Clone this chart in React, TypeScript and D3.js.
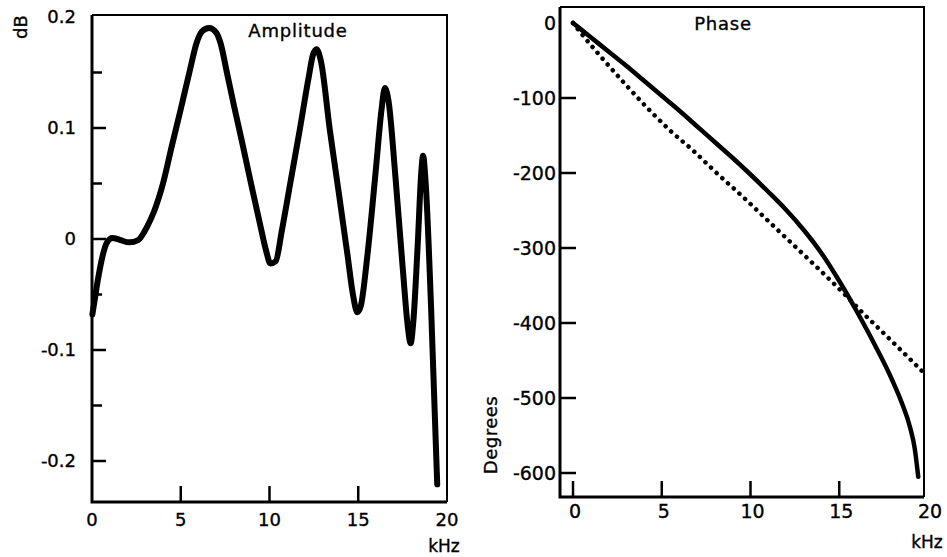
import React from 'react';
import * as d3 from 'd3';

// Amplitude response (left panel)
const ampFreq = [0.02, 0.15, 0.35, 0.6, 0.85, 1.15, 1.6, 2.1, 2.6, 3.1, 3.5, 4.0, 4.5, 5.0, 5.5, 5.9, 6.2, 6.6, 7.0, 7.25, 7.6, 8.0, 8.5, 9.0, 9.5, 9.8, 10.05, 10.35, 10.7, 11.2, 11.7, 12.2, 12.45, 12.65, 12.9, 13.4, 13.9, 14.4, 14.7, 14.95, 15.15, 15.5, 16.0, 16.3, 16.5, 16.7, 17.1, 17.5, 17.8, 17.95, 18.1, 18.35, 18.55, 18.65, 18.8, 19.1, 19.45];
const ampDb = [-0.068, -0.055, -0.035, -0.015, -0.003, 0.001, -0.001, -0.003, -0.001, 0.011, 0.025, 0.05, 0.084, 0.117, 0.151, 0.177, 0.187, 0.19, 0.186, 0.176, 0.15, 0.12, 0.084, 0.047, 0.011, -0.01, -0.022, -0.02, 0.008, 0.053, 0.098, 0.145, 0.166, 0.171, 0.16, 0.098, 0.042, -0.015, -0.05, -0.066, -0.06, -0.017, 0.064, 0.115, 0.136, 0.125, 0.055, -0.025, -0.08, -0.094, -0.075, -0.005, 0.06, 0.075, 0.05, -0.06, -0.221];

// Phase response (right panel)
const phaseFreq = [0, 1, 2, 3, 4, 5, 6, 7, 8, 9, 10, 11, 12, 13, 14, 15, 16, 17, 18, 18.5, 19, 19.25, 19.45];
const phaseSolid = [0, -19, -38, -57, -77, -97, -117, -138, -159, -180, -202, -225, -249, -276, -307, -344, -385, -429, -477, -505, -540, -567, -605];
const dotFreq = [0, 0.5, 1.5, 3, 4.34, 5.5, 6.76, 8, 9.58, 11, 12.2, 13.4, 14.5, 15.4, 16.3, 17.3, 18.25, 19.7];
const phaseDotted = [0, -15, -43, -83, -117, -144, -170, -198, -232, -264, -291, -318, -343, -364, -386, -409, -431, -465];

// Ticks
const kHzTicks = [0, 5, 10, 15, 20];
const ampMajor = [0.2, 0.1, 0, -0.1, -0.2];
const ampMinor = [0.15, 0.05, -0.05, -0.15];
const ampLabels = ['0.2', '0.1', '0', '-0.1', '-0.2'];
const phaseTicks = [0, -100, -200, -300, -400, -500, -600];

const font = 'DejaVu Sans, sans-serif';

const App = () => {
  // left panel scales
  const xA = d3.scaleLinear().domain([0, 20]).range([92, 447]);
  const yA = d3.scaleLinear().domain([0, 0.1]).range([239, 128]);
  const aTop = 15, aBottom = 502;

  // right panel scales
  const xP = d3.scaleLinear().domain([0, 20]).range([573, 928]);
  const yP = d3.scaleLinear().domain([0, -600]).range([23, 473]);
  const pLeft = 560, pRight = 924, pTop = 7, pBottom = 497;

  const ampLine = d3.line<number>()
    .x((_, i) => xA(ampFreq[i]))
    .y(d => yA(d))
    .curve(d3.curveMonotoneX);

  const solidLine = d3.line<number>()
    .x((_, i) => xP(phaseFreq[i]))
    .y(d => yP(d))
    .curve(d3.curveMonotoneX);

  const dotLine = d3.line<number>()
    .x((_, i) => xP(dotFreq[i]))
    .y(d => yP(d))
    .curve(d3.curveMonotoneX);

  const txt = { stroke: '#000', strokeWidth: 0.35 };

  return (
    <svg width={947} height={557} style={{ position: 'absolute', left: 0, top: 0, background: '#fff' }}
      fontFamily={font}>
      {/* ---- Amplitude panel ---- */}
      <path d={`M${xA(0)},${aTop}H${xA(20)}V${aBottom}`} fill="none" stroke="#000" strokeWidth={2} />
      <path d={`M${xA(0)},${aTop}V${aBottom}H${xA(20)}`} fill="none" stroke="#000" strokeWidth={3} />
      {ampMajor.map((v, i) => (
        <g key={'am' + i}>
          {v !== 0.2 && <line x1={xA(0)} x2={xA(0) + 14} y1={yA(v)} y2={yA(v)} stroke="#000" strokeWidth={2.5} />}
          <text x={76} y={yA(v) + 6} textAnchor="end" fontSize={18} {...txt}>{ampLabels[i]}</text>
        </g>
      ))}
      {ampMinor.map((v, i) => (
        <line key={'an' + i} x1={xA(0)} x2={xA(0) + 10} y1={yA(v)} y2={yA(v)} stroke="#000" strokeWidth={2.5} />
      ))}
      {kHzTicks.map(t => (
        <g key={'ax' + t}>
          {t > 0 && t < 20 && <line x1={xA(t)} x2={xA(t)} y1={aBottom} y2={aBottom - 16} stroke="#000" strokeWidth={2.5} />}
          <text x={xA(t)} y={526} textAnchor="middle" fontSize={18} {...txt}>{t}</text>
        </g>
      ))}
      <path d={ampLine(ampDb) || ''} fill="none" stroke="#000" strokeWidth={6} strokeLinejoin="round" strokeLinecap="round" />
      <text x={298} y={37} textAnchor="middle" fontSize={18} letterSpacing={0.8} {...txt}>Amplitude</text>
      <text x={444} y={552} textAnchor="middle" fontSize={17} {...txt}>kHz</text>
      <text transform="translate(27,27) rotate(-90)" textAnchor="middle" fontSize={18} {...txt}>dB</text>

      {/* ---- Phase panel ---- */}
      <path d={`M${pLeft},${pTop}H${pRight}V${pBottom}`} fill="none" stroke="#000" strokeWidth={2} />
      <path d={`M${pLeft},${pTop}V${pBottom}H${pRight}`} fill="none" stroke="#000" strokeWidth={3} />
      {phaseTicks.map(v => (
        <g key={'py' + v}>
          {v !== 0 && <line x1={pLeft} x2={pLeft + 16} y1={yP(v)} y2={yP(v)} stroke="#000" strokeWidth={2.5} />}
          <text x={556} y={yP(v) + 7} textAnchor="end" fontSize={19} {...txt}>{v}</text>
        </g>
      ))}
      {kHzTicks.map(t => (
        <g key={'px' + t}>
          {t < 20 && <line x1={xP(t)} x2={xP(t)} y1={pBottom} y2={pBottom - 16} stroke="#000" strokeWidth={2.5} />}
          <text x={xP(t) + 2} y={518} textAnchor="middle" fontSize={19} {...txt}>{t}</text>
        </g>
      ))}
      <path d={dotLine(phaseDotted) || ''} fill="none" stroke="#000" strokeWidth={4.5} strokeDasharray="0.1 7.6" strokeLinecap="round" />
      <path d={solidLine(phaseSolid) || ''} fill="none" stroke="#000" strokeWidth={4.5} strokeLinejoin="round" strokeLinecap="round" />
      <text x={723} y={30} textAnchor="middle" fontSize={18} letterSpacing={0.8} {...txt}>Phase</text>
      <text x={927} y={548} textAnchor="middle" fontSize={17} {...txt}>kHz</text>
      <text transform="translate(497,435) rotate(-90)" textAnchor="middle" fontSize={18} letterSpacing={0.5} {...txt}>Degrees</text>
    </svg>
  );
};

export default App;
